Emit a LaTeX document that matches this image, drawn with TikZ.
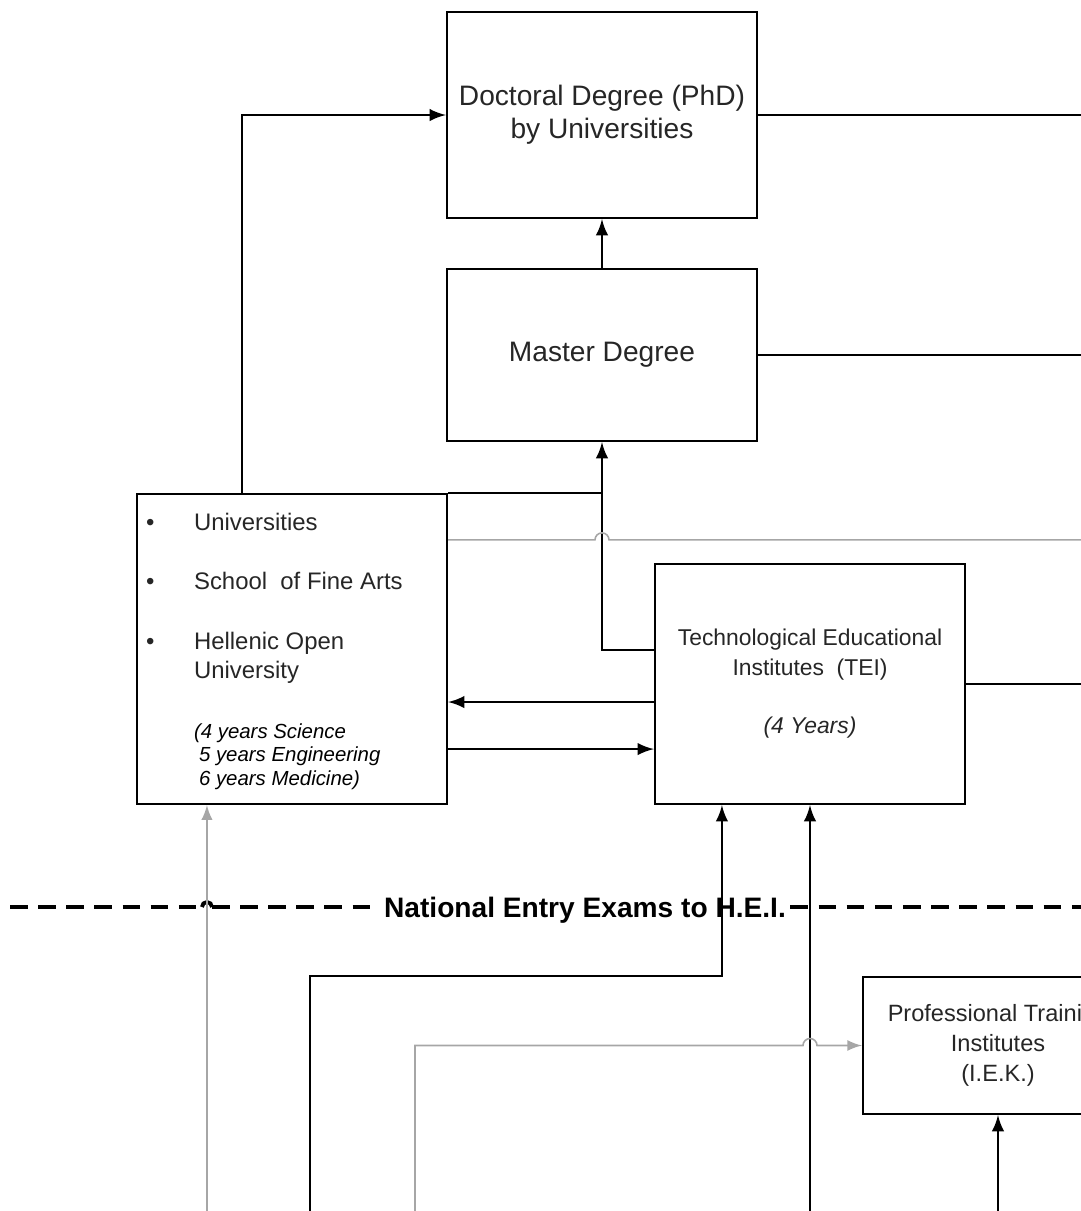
\documentclass[tikz,border=0pt]{standalone}
\usepackage{fontspec}
\setmainfont{Liberation Sans}
\begin{document}
\begin{tikzpicture}[>=latex,x=0.01cm,y=-0.01cm,semithick]
\tikzset{
  box/.style={draw,minimum width=3.1cm,inner xsep=1pt,align=center,text=black!85},
  feed/.style={gray!70,line width=0.45pt},
  exam/.style={line width=1.2pt,dash pattern=on 5pt off 3pt},
  item/.style={anchor=base west,inner sep=0pt,text=black!85,font=\fontsize{6.8}{8}\selectfont},
  note/.style={anchor=base west,inner sep=0pt,font=\fontsize{5.8}{7}\selectfont\itshape},
}
\useasboundingbox (0,0) rectangle (1081,1211);
\clip (0,0) rectangle (1081,1211);
% free ends at the page edges
\coordinate (edgeE) at (1085,0);
\coordinate (edgeS) at (0,1215);
\coordinate (edgeW) at (10,907);
\coordinate (srcB) at (310,1215);
\coordinate (srcC) at (415,1215);
% degrees
\node[box,minimum height=2.06cm,font=\fontsize{8}{9.4}\selectfont] (phd) at (602,115) {Doctoral Degree (PhD)\\by Universities};
\node[box,minimum height=1.72cm,font=\fontsize{8}{9.4}\selectfont] (master) at (602,355) {Master Degree};
% higher education
\node[box,minimum height=3.1cm] (uni) at (292,649) {};
\node[item] (b1) at (145,530) {•};
\node[item] (b2) at (145,589) {•};
\node[item] (b3) at (145,649) {•};
\node[item] (u1) at (193,530) {Universities};
\node[item] (u2) at (193,589) {School\ \ of Fine Arts};
\node[item] (u3) at (193,649) {Hellenic Open};
\node[item] (u4) at (193,678) {University};
\node[note] (y1) at (193,738) {(4 years Science};
\node[note] (y2) at (198,761) {5 years Engineering};
\node[note] (y3) at (198,785) {6 years Medicine)};
\node[box,minimum height=2.4cm,font=\fontsize{6.5}{8.5}\selectfont] (tei) at (810,684) {Technological Educational\\Institutes\ \ (TEI)\\[8pt]\itshape(4 Years)};
\node[box,minimum width=2.7cm,minimum height=1.37cm,font=\fontsize{6.7}{8.5}\selectfont] (iek) at (998,1045.5) {Professional Training\\Institutes\\(I.E.K.)};
% exams line
\node[inner sep=1pt,text height=5.8pt,text depth=0pt,font=\fontsize{8}{9}\selectfont\bfseries] (exams) at (585,907) {National Entry Exams to H.E.I.};
\draw[exam] (edgeW) -- ([xshift=-0.9cm]uni.south |- exams.west);
\draw[line width=1.1pt] ([xshift=-0.9cm]uni.south |- exams.west) arc[start angle=180,end angle=0,radius=0.05cm];
\draw[exam] ([xshift=-0.8cm]uni.south |- exams.west) -- (exams.west);
\draw[exam] (exams.east) -- (exams.east -| edgeE);
% upper links
\draw[->] (master.north) -- (phd.south);
\draw[->] ([xshift=-0.5cm]uni.north) |- (phd.west);
\draw (phd.east) -- (phd.east -| edgeE);
\draw (master.east) -- (master.east -| edgeE);
\draw (tei.east) -- (tei.east -| edgeE);
\draw (uni.north east) -- (uni.north east -| master.south);
\draw[->] ([yshift=0.34cm]tei.west) -| (master.south);
\draw[feed] ([yshift=-0.47cm]uni.north east) -- ([xshift=-0.07cm,yshift=-0.47cm]uni.north east -| master.south)
  arc[start angle=180,end angle=0,radius=0.07cm] -- ([yshift=-0.47cm]uni.north east -| edgeE);
\draw[->] ([yshift=-0.18cm]tei.west) -- ([yshift=-0.18cm]tei.west -| uni.east);
\draw[->] ([yshift=-1cm]uni.east) -- ([yshift=-1cm]uni.east -| tei.west);
% lower links
\draw[feed,->] ([xshift=-0.85cm]uni.south |- edgeS) -- ([xshift=-0.85cm]uni.south);
\draw[->] (srcB) |- ([xshift=-0.88cm]tei.south |- iek.north) -- ([xshift=-0.88cm]tei.south);
\draw[->] (tei.south |- edgeS) -- (tei.south);
\draw[feed,->] (srcC) -- (srcC |- iek.west) -- ([xshift=-0.07cm]tei.south |- iek.west)
  arc[start angle=180,end angle=0,radius=0.07cm] -- (iek.west);
\draw[->] (iek.south |- edgeS) -- (iek.south);
\end{tikzpicture}
\end{document}
